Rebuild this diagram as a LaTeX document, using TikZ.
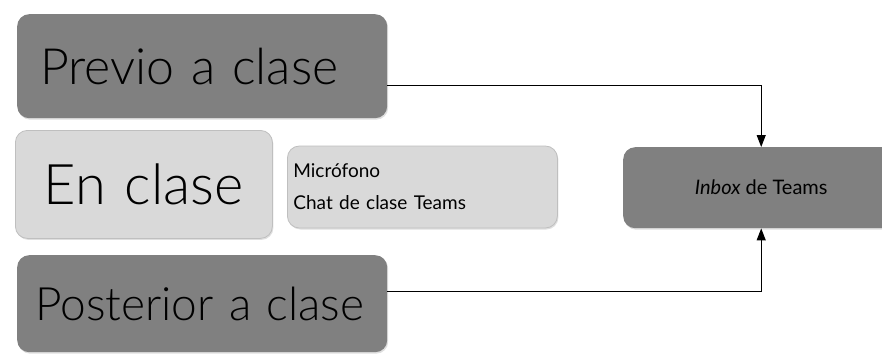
\documentclass[tikz,border=0pt]{standalone}
\usepackage{fontspec}
\setmainfont{Lato Light}[ItalicFont={Lato Light Italic}]
\newfontfamily\notefont{Lato}
\usetikzlibrary{positioning,arrows.meta,shadows}

\begin{document}
\begin{tikzpicture}[x=1pt,y=-1pt,
  box/.style={rounded corners=12pt,anchor=north west,inner ysep=0pt,
    drop shadow={opacity=0.25,shadow xshift=1pt,shadow yshift=-1.5pt}},
  darkbox/.style={box,fill=black!50},
  lightbox/.style={box,fill=black!15,draw=black!25,line width=0.8pt},
  arr/.style={-{Triangle[length=12pt,width=9pt]},line width=1.1pt}]
  \useasboundingbox (0,0) rectangle (882,356);
  % the three moments of a class
  \node[darkbox,minimum height=104pt,text width=324pt,inner xsep=23pt,align=left,
    font=\fontsize{50}{54}\selectfont] (previo) at (17,14) {\mbox{Previo a clase}};
  \node[lightbox,minimum height=108pt,text width=227pt,inner xsep=15pt,align=center,
    font=\fontsize{56}{60}\selectfont] (enclase) at (15,130) {En clase};
  \node[lightbox,minimum height=82pt,text width=258pt,inner xsep=6pt,align=left,
    font=\notefont\fontsize{19}{32}\selectfont,anchor=west] (medios) at (287,187)
    {Micrófono\\Chat de clase Teams};
  \node[darkbox,minimum height=97pt,text width=334pt,inner xsep=18pt,align=left,
    font=\fontsize{46}{52}\selectfont] (posterior) at (17,255) {\mbox{Posterior a clase}};
  % common destination
  \node[darkbox,minimum height=81pt,minimum width=276pt,
    font=\notefont\fontsize{20}{24}\selectfont] (inbox) at (623,147) {\textit{Inbox} de Teams};
  \draw[arr] ([yshift=-19pt]previo.east) -| (inbox.north);
  \draw[arr] ([yshift=12pt]posterior.east) -| (inbox.south);
\end{tikzpicture}
\end{document}
